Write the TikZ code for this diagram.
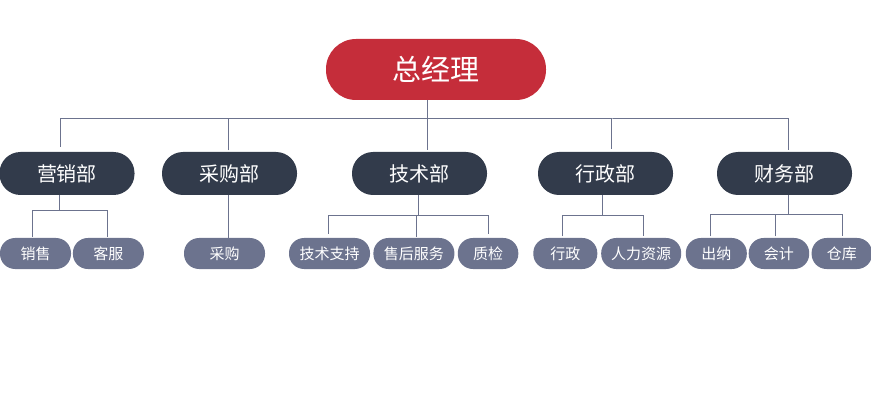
\documentclass[tikz,border=0pt]{standalone}
\usepackage{fontspec}
\newfontfamily\cjk{Noto Sans CJK SC}
\usetikzlibrary{positioning}
\definecolor{bossred}{HTML}{C52D3A}
\definecolor{deptgray}{HTML}{323B4B}
\definecolor{subgray}{HTML}{6C738E}
\definecolor{linkgray}{HTML}{6C738E}

\begin{document}
\begin{tikzpicture}[x=1pt,y=-1pt,
node distance = 2pt,
boss/.style={rectangle,fill=bossred,text=white,minimum width=220pt,minimum height=61pt,rounded corners=30pt,inner sep=0pt,font=\cjk\fontsize{29}{31}\selectfont},
dept/.style={rectangle,fill=deptgray,text=white,minimum width=135pt,minimum height=43pt,rounded corners=21pt,inner sep=0pt,font=\cjk\fontsize{20}{22}\selectfont},
sub/.style={rectangle,fill=subgray,text=white,minimum height=31pt,rounded corners=15pt,inner sep=0pt,font=\cjk\fontsize{15}{17}\selectfont},
link/.style={draw=linkgray,line width=1pt}]
\useasboundingbox (0,0) rectangle (871,409);
% top
\node [boss] (boss) at (436,69.5) {总经理};
% departments
\node [dept] (m1) at (67,173.5) {营销部};
\node [dept] (m2) at (229.5,173.5) {采购部};
\node [dept] (m3) at (419.5,173.5) {技术部};
\node [dept] (m4) at (605.5,173.5) {行政部};
\node [dept] (m5) at (784.5,173.5) {财务部};
% sections
\node [sub, minimum width=71pt] (s11) at (35.5,253.5) {销售};
\node [sub, minimum width=71pt] (s12) [right = 1.5pt of s11] {客服};
\node [sub, minimum width=81pt] (s21) at (224.5,253.5) {采购};
\node [sub, minimum width=81pt] (s31) at (329.5,253.5) {技术支持};
\node [sub, minimum width=81pt] (s32) [right = 3pt of s31] {售后服务};
\node [sub, minimum width=60.5pt] (s33) [right = 3pt of s32] {质检};
\node [sub, minimum width=64pt] (s41) at (565.3,253.5) {行政};
\node [sub, minimum width=80pt] (s42) [right = 3.5pt of s41] {人力资源};
\node [sub, minimum width=61pt] (s51) at (716.3,253.5) {出纳};
\node [sub, minimum width=60.5pt] (s52) [right = 1.5pt of s51] {会计};
\node [sub, minimum width=60.5pt] (s53) [right = 2pt of s52] {仓库};
% top level links
\coordinate (bus) at (427,119);
\draw [link] (bus |- boss.south) -- (bus);
\draw [link] ([xshift=-7pt,yshift=5pt]m1.north) |- (bus) -| ([xshift=3.5pt,yshift=2pt]m5.north);
\draw [link] ([xshift=-1.5pt,yshift=1.5pt]m2.north) |- (bus);
\draw [link] (bus) -- ([yshift=1.5pt]m3.north -| bus);
\draw [link] ([xshift=6pt,yshift=3pt]m4.north) |- (bus);
% section links
\draw [link] ([xshift=-8pt]m1.south) -- ++(0,15) coordinate (j1);
\draw [link] ([xshift=-3pt,yshift=1pt]s11.north) |- (j1) -| ([xshift=-1pt,yshift=1pt]s12.north);
\draw [link] ([xshift=-1.5pt]m2.south) -- ++(0,43);
\draw [link] ([xshift=-1pt]m3.south) -- ++(0,20) coordinate (j3);
\draw [link] ([xshift=-1pt,yshift=4pt]s31.north) |- (j3) -| ([yshift=4pt]s33.north);
\draw [link] ([xshift=2.6pt,yshift=1pt]s32.north) |- (j3);
\draw [link] ([xshift=-3pt]m4.south) -- ++(0,20) coordinate (j4);
\draw [link] ([xshift=-2.6pt,yshift=1.5pt]s41.north) |- (j4) -| ([xshift=2.6pt,yshift=1.5pt]s42.north);
\draw [link] ([xshift=3.5pt]m5.south) -- ++(0,19) coordinate (j5);
\draw [link] ([xshift=-6pt,yshift=1.5pt]s51.north) |- (j5) -| ([xshift=0.3pt,yshift=1.5pt]s53.north);
\draw [link] ([xshift=-3.4pt,yshift=1.5pt]s52.north) |- (j5);
\end{tikzpicture}
\end{document}
